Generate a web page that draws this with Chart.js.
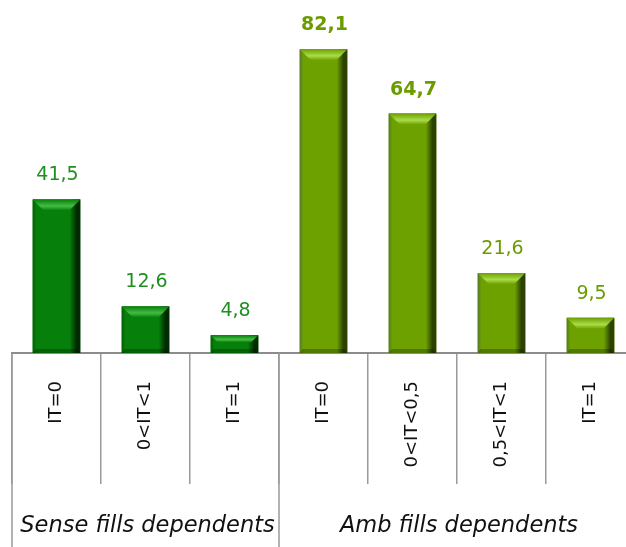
<!DOCTYPE html>
<html>
<head>
<meta charset="utf-8">
<script src="https://cdn.jsdelivr.net/npm/chart.js@4/dist/chart.umd.min.js"></script>
<style>
  html, body { margin: 0; padding: 0; background: #fff; overflow: hidden; }
  #wrap { width: 636px; height: 547px; }
</style>
</head>
<body>
<div id="wrap"><canvas id="chart"></canvas></div>
<script>
// Categories and values
const categories = ['IT=0', '0<IT<1', 'IT=1', 'IT=0', '0<IT<0,5', '0,5<IT<1', 'IT=1']
const values = [41.5, 12.6, 4.8, 82.1, 64.7, 21.6, 9.5]
const groupNames = ['Sense fills dependents', 'Amb fills dependents']
const groupSizes = [3, 4]
const boldLabels = [false, false, false, true, true, false, false]

const FONT = "'DejaVu Sans', sans-serif"

// colour sets for the two groups
const palettes = [
  { main: '#06800a', left: '#046004', right: '#002a00', hi: '#45bb45', text: '#1f8f1f' },
  { main: '#6ca100', left: '#587a28', right: '#2c4200', hi: '#aadc48', text: '#6a9c00' }
]
const groupOf = i => (i < groupSizes[0] ? 0 : 1)

// Bevel look drawn over each bar element
const bevelPlugin = {
  id: 'bevel',
  afterDatasetsDraw(chart) {
    const ctx = chart.ctx
    chart.getDatasetMeta(0).data.forEach((bar, i) => {
      const p = palettes[groupOf(i)]
      const { x, y, base, width } = bar.getProps(['x', 'y', 'base', 'width'], true)
      const l = x - width / 2, r = x + width / 2, h = base - y
      const b = Math.min(11, h / 2.5)
      ctx.save()
      // body with side shading
      const g = ctx.createLinearGradient(l, 0, r, 0)
      g.addColorStop(0, p.left)
      g.addColorStop(0.08, p.main)
      g.addColorStop(0.78, p.main)
      g.addColorStop(0.92, p.right)
      g.addColorStop(1, p.right)
      ctx.fillStyle = g
      ctx.fillRect(l, y, width, h)
      // top bevel
      const tg = ctx.createLinearGradient(0, y, 0, y + b)
      tg.addColorStop(0, p.main)
      tg.addColorStop(0.6, p.hi)
      tg.addColorStop(1, p.main)
      ctx.fillStyle = tg
      ctx.beginPath()
      ctx.moveTo(l, y)
      ctx.lineTo(r, y)
      ctx.lineTo(r - b, y + b)
      ctx.lineTo(l + b, y + b)
      ctx.closePath()
      ctx.fill()
      // bottom shadow
      ctx.fillStyle = 'rgba(0,0,0,0.25)'
      ctx.beginPath()
      ctx.moveTo(l + 3, base - 4)
      ctx.lineTo(r - 3, base - 4)
      ctx.lineTo(r, base)
      ctx.lineTo(l, base)
      ctx.closePath()
      ctx.fill()
      ctx.restore()
    })
  }
}

// Value labels above bars
const valueLabels = {
  id: 'valueLabels',
  afterDatasetsDraw(chart) {
    const ctx = chart.ctx
    ctx.save()
    ctx.textAlign = 'center'
    ctx.textBaseline = 'middle'
    chart.getDatasetMeta(0).data.forEach((bar, i) => {
      ctx.fillStyle = palettes[groupOf(i)].text
      ctx.font = (boldLabels[i] ? 'bold ' : '') + '19px ' + FONT
      ctx.fillText(values[i].toFixed(1).replace('.', ','), bar.x + 1, bar.y - 24)
    })
    ctx.restore()
  }
}

// Group separators and group names under the axis
const groupAxis = {
  id: 'groupAxis',
  afterDraw(chart) {
    const ctx = chart.ctx
    const xs = chart.scales.x
    const half = (xs.getPixelForValue(1) - xs.getPixelForValue(0)) / 2
    ctx.save()
    ctx.strokeStyle = '#9a9a9a'
    ctx.lineWidth = 1.5
    let start = 0
    groupSizes.forEach((n, gi) => {
      const left = xs.getPixelForValue(start) - half
      const right = xs.getPixelForValue(start + n - 1) + half
      ctx.beginPath()
      ctx.moveTo(left, chart.chartArea.bottom)
      ctx.lineTo(left, chart.height)
      ctx.stroke()
      ctx.fillStyle = '#111'
      ctx.font = 'oblique 22.5px ' + FONT
      ctx.textAlign = 'center'
      ctx.textBaseline = 'middle'
      ctx.fillText(groupNames[gi], (left + right) / 2 + 2, 526)
      start += n
    })
    ctx.restore()
  }
}

new Chart(document.getElementById('chart'), {
  type: 'bar',
  data: {
    labels: categories,
    datasets: [{
      data: values,
      backgroundColor: values.map((v, i) => palettes[groupOf(i)].main),
      borderWidth: 0,
      categoryPercentage: 1,
      barPercentage: 0.535
    }]
  },
  options: {
    responsive: true,
    maintainAspectRatio: false,
    animation: false,
    layout: { padding: { top: 20, left: 12, right: 1, bottom: 0 } },
    plugins: { legend: { display: false }, tooltip: { enabled: false } },
    scales: {
      y: { display: false, min: 0, max: 90 },
      x: {
        afterFit: scale => { scale.height = 194 },
        border: { display: true, color: '#8c8c8c', width: 2 },
        grid: {
          offset: true,
          drawOnChartArea: false,
          drawTicks: true,
          tickLength: 131,
          color: '#9a9a9a',
          lineWidth: 1.5
        },
        ticks: {
          minRotation: 90,
          maxRotation: 90,
          padding: -103,
          color: '#111',
          font: { family: FONT, size: 18 }
        }
      }
    }
  },
  plugins: [bevelPlugin, valueLabels, groupAxis]
})
</script>
</body>
</html>
